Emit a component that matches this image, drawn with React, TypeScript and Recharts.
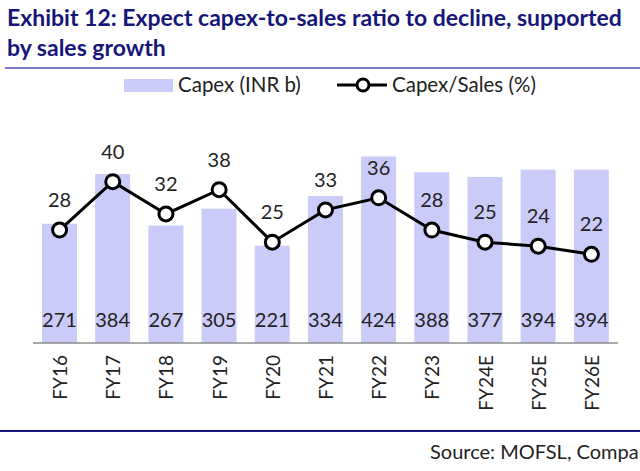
import React from 'react';
import { ComposedChart, Bar, Line, XAxis, YAxis, LabelList } from 'recharts';

const years = ['FY16', 'FY17', 'FY18', 'FY19', 'FY20', 'FY21', 'FY22', 'FY23', 'FY24E', 'FY25E', 'FY26E'];
const capex = [271, 384, 267, 305, 221, 334, 424, 388, 377, 394, 394];
const capexToSales = [28, 40, 32, 38, 25, 33, 36, 28, 25, 24, 22];

const data = years.map((y, i) => ({ year: y, capex: capex[i], ratio: capexToSales[i] }));

const FONT = 'Lato, "Open Sans", sans-serif';
const BAR = '#cbcbfa';
const NAVY = '#16167a';
const AXIS_Y = 343;

const XTick = (props: any) => {
  const { x, payload } = props;
  return (
    <text
      transform={`translate(${x},${AXIS_Y + 12}) rotate(-90)`}
      textAnchor="end"
      dominantBaseline="central"
      fontSize={19}
      fontFamily={FONT}
      fill="#222"
    >
      {payload.value}
    </text>
  );
};

const BarValue = (props: any) => {
  const { x, y, width, height, value } = props;
  return (
    <text x={x + width / 2} y={y + height - 16} textAnchor="middle" fontSize={20} fontFamily={FONT} fill="#222">
      {value}
    </text>
  );
};

const LineValue = (props: any) => {
  const { x, y, value } = props;
  return (
    <text x={x} y={y - 31} textAnchor="middle" dominantBaseline="central" fontSize={20} fontFamily={FONT} fill="#222">
      {value}
    </text>
  );
};

export default function App() {
  return (
    <div style={{ position: 'absolute', left: 0, top: 0, width: 640, height: 471, background: '#fff', overflow: 'hidden', fontFamily: FONT }}>
      <div style={{ position: 'absolute', left: 7, top: 2, color: NAVY, fontWeight: 700, fontSize: 23, lineHeight: '30px', whiteSpace: 'nowrap' }}>
        <div>Exhibit 12: Expect capex-to-sales ratio to decline, supported</div>
        <div>by sales growth</div>
      </div>
      <div style={{ position: 'absolute', left: 5, top: 67, width: 640, height: 2, background: '#7a7ac6' }} />

      <ComposedChart
        width={640}
        height={471}
        data={data}
        margin={{ top: 101, right: 22, bottom: 28, left: 33 }}
        barSize={35}
        style={{ position: 'absolute', left: 0, top: 0 }}
      >
        <XAxis
          dataKey="year"
          height={100}
          tickLine={false}
          tick={<XTick />}
          interval={0}
          stroke="#8c8c8c"
          strokeWidth={1.5}
        />
        <YAxis yAxisId="left" hide domain={[0, 550]} />
        <YAxis yAxisId="right" orientation="right" hide domain={[0, 60]} />
        <Bar yAxisId="left" dataKey="capex" fill={BAR} isAnimationActive={false}>
          <LabelList dataKey="capex" content={<BarValue />} />
        </Bar>
        <Line
          yAxisId="right"
          dataKey="ratio"
          stroke="#000"
          strokeWidth={3}
          dot={{ r: 7, fill: '#fff', stroke: '#000', strokeWidth: 3 }}
          isAnimationActive={false}
        >
          <LabelList dataKey="ratio" content={<LineValue />} />
        </Line>
      </ComposedChart>

      {/* legend */}
      <div style={{ position: 'absolute', left: 124, top: 79, width: 49, height: 13, background: BAR }} />
      <div style={{ position: 'absolute', left: 178, top: 72, fontSize: 20.5, color: '#222', whiteSpace: 'nowrap' }}>Capex (INR b)</div>
      <svg style={{ position: 'absolute', left: 330, top: 72 }} width={62} height={26}>
        <line x1={7} y1={13} x2={57} y2={13} stroke="#000" strokeWidth={3} />
        <circle cx={33} cy={13} r={6} fill="#fff" stroke="#000" strokeWidth={3} />
      </svg>
      <div style={{ position: 'absolute', left: 392, top: 72, fontSize: 20.5, color: '#222', whiteSpace: 'nowrap' }}>Capex/Sales (%)</div>

      <div style={{ position: 'absolute', left: 0, top: 430, width: 640, height: 2, background: NAVY }} />
      <div style={{ position: 'absolute', left: 430, top: 439, fontSize: 20, color: '#222', whiteSpace: 'nowrap' }}>Source: MOFSL, Company</div>
    </div>
  );
}
